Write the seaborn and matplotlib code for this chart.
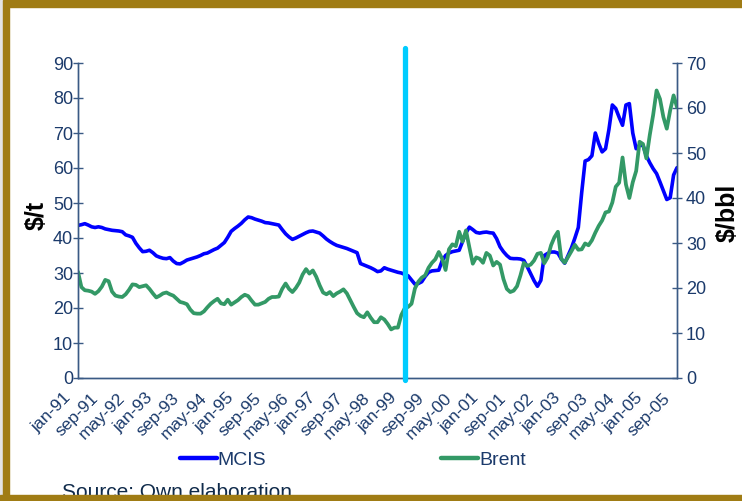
import numpy as np
import pandas as pd
import matplotlib
matplotlib.use("Agg")
import matplotlib.pyplot as plt
import seaborn as sns
from matplotlib.patches import Rectangle
from matplotlib.lines import Line2D
from matplotlib.transforms import ScaledTranslation

# ---------------- data (monthly, jan-91 .. sep-05) ----------------
mcis = [
    43.6, 43.8, 44.1, 43.7, 43.2, 43.0, 43.2, 43.0, 42.6, 42.4,
    42.2, 42.1, 42.0, 41.8, 40.9, 40.6, 40.2, 38.5, 37.2, 36.1,
    36.2, 36.5, 35.8, 34.9, 34.5, 34.2, 34.1, 34.4, 33.4, 32.7,
    32.6, 33.1, 33.7, 34.0, 34.3, 34.6, 35.0, 35.5, 35.7, 36.2,
    36.7, 37.1, 37.9, 38.7, 40.2, 41.9, 42.7, 43.4, 44.2, 45.2,
    46.0, 45.8, 45.4, 45.1, 44.8, 44.4, 44.3, 44.1, 43.9, 43.7,
    42.4, 41.2, 40.3, 39.6, 40.0, 40.5, 41.0, 41.5, 41.9, 42.0,
    41.7, 41.4, 40.6, 39.7, 39.0, 38.4, 37.9, 37.6, 37.3, 37.0,
    36.6, 36.2, 35.8, 32.7, 32.3, 31.9, 31.5, 31.0, 30.4, 30.6,
    31.5, 31.1, 30.8, 30.5, 30.2, 30.0, 29.6, 29.2, 28.0, 26.8,
    27.0, 27.5, 29.0, 30.2, 30.6, 30.7, 30.8, 33.5, 35.0, 35.7,
    36.1, 36.3, 36.5, 39.0, 41.5, 43.1, 42.4, 41.6, 41.4, 41.6,
    41.7, 41.5, 41.4, 39.8, 37.5, 36.1, 35.0, 34.2, 34.1, 34.1,
    34.0, 33.6, 31.8, 29.8, 27.8, 26.2, 27.9, 35.0, 35.6, 36.0,
    36.0, 35.7, 34.0, 32.8, 35.0, 37.2, 40.0, 43.0, 53.0, 62.0,
    62.4, 63.5, 70.0, 67.0, 64.6, 65.5, 71.0, 78.0, 77.0, 74.5,
    72.2, 78.0, 78.4, 70.0, 65.5, 66.5, 66.5, 63.5, 61.5, 59.8,
    58.4, 56.0, 53.5, 51.0, 51.5, 58.0, 60.1,
]

brent = [
    23.6, 20.2, 19.5, 19.4, 19.2, 18.7, 19.3, 20.3, 21.8, 21.5,
    19.2, 18.3, 18.1, 18.0, 18.6, 19.6, 20.8, 20.7, 20.2, 20.4,
    20.6, 19.8, 18.8, 17.9, 18.3, 18.8, 19.0, 18.6, 18.3, 17.6,
    16.9, 16.7, 16.4, 15.2, 14.4, 14.3, 14.3, 14.8, 15.7, 16.5,
    17.1, 17.6, 16.6, 16.4, 17.4, 16.3, 16.8, 17.3, 18.0, 18.5,
    18.2, 17.2, 16.3, 16.3, 16.6, 16.9, 17.6, 18.0, 18.0, 18.1,
    19.8, 21.0, 19.8, 19.1, 20.0, 21.2, 23.0, 24.2, 23.2, 23.9,
    22.5, 20.6, 19.0, 18.6, 19.1, 18.2, 18.8, 19.2, 19.7, 18.8,
    17.3, 15.8, 14.4, 13.8, 13.5, 14.6, 13.4, 12.4, 12.4, 13.5,
    13.0, 12.0, 10.8, 11.2, 11.2, 14.0, 15.5, 15.8, 16.5, 19.9,
    21.4, 22.3, 22.8, 24.5, 25.6, 26.4, 28.0, 26.5, 24.0, 28.6,
    29.7, 29.3, 32.5, 30.3, 32.8, 29.0, 25.4, 26.8, 26.5, 25.6,
    27.8, 27.2, 25.0, 25.8, 25.2, 22.0, 19.8, 19.1, 19.4, 20.4,
    22.8, 25.6, 24.9, 25.2, 26.1, 27.6, 27.8, 25.5, 26.8, 29.5,
    31.3, 32.5, 26.5, 25.6, 26.9, 28.2, 29.6, 28.5, 28.6, 29.9,
    29.5, 30.6, 32.3, 33.8, 35.0, 36.8, 37.0, 39.0, 42.5, 43.4,
    49.0, 43.0, 40.0, 43.5, 46.0, 52.5, 52.0, 48.8, 54.0, 58.5,
    63.9, 62.0, 58.0, 55.4, 59.5, 62.8, 60.2,
]

tick_labels = [
    "jan-91", "sep-91", "may-92", "jan-93", "sep-93", "may-94",
    "jan-95", "sep-95", "may-96", "jan-97", "sep-97", "may-98",
    "jan-99", "sep-99", "may-00", "jan-01", "sep-01", "may-02",
    "jan-03", "sep-03", "may-04", "jan-05", "sep-05",
]
label_step = 8          # one label every 8 months
event_month = 96        # jan-99 marker

months = list(range(len(mcis)))
df = pd.DataFrame({"month": months, "MCIS": mcis, "Brent": brent})

# ---------------- style ----------------
sns.set_theme(style="white")
plt.rcParams["font.family"] = ["Liberation Sans", "DejaVu Sans"]

navy = "#1B3A6B"
axis_col = "#3A5A85"
gold = "#A07C14"

W, H = 742, 501
fig = plt.figure(figsize=(W / 100, H / 100), dpi=100)
ax = fig.add_axes([78 / W, 123 / H, 599 / W, 315 / H])
ax2 = ax.twinx()

sns.lineplot(data=df, x="month", y="MCIS", ax=ax, color="#0000FF", lw=2.6)
sns.lineplot(data=df, x="month", y="Brent", ax=ax2, color="#339966", lw=2.7)

ax.set_xlim(0, len(mcis) - 1)
ax.set_ylim(0, 90)
ax2.set_ylim(0, 70)
ax.set_yticks(range(0, 91, 10))
ax2.set_yticks(range(0, 71, 10))

xpos = [i * label_step for i in range(len(tick_labels))]
ax.set_xticks(xpos)
ax.set_xticklabels(tick_labels, rotation=45, ha="right", va="top",
                   rotation_mode="anchor")
ax.set_xticks(np.linspace(0, len(mcis) - 1, 31), minor=True)

for a in (ax, ax2):
    a.set_xlabel("")
    a.set_ylabel("")
    a.spines["top"].set_visible(False)
    for s in ("left", "right", "bottom"):
        a.spines[s].set_color(axis_col)
        a.spines[s].set_linewidth(1.0)
    a.tick_params(axis="y", direction="inout", length=7, width=1.0,
                  color=axis_col, labelcolor=navy, labelsize=13, pad=0)
    a.grid(False)

ax.tick_params(axis="x", which="major", length=0, labelcolor=navy,
               labelsize=12.5, pad=9)
ax.tick_params(axis="x", which="minor", direction="inout", length=7,
               width=1.0, color=axis_col)
ax.tick_params(axis="y", left=True, right=False, labelleft=True)
ax2.tick_params(axis="y", right=True, left=False, labelright=True, pad=3)

shift = ScaledTranslation(-15 / 100, 0, fig.dpi_scale_trans)
for lab in ax.get_xticklabels():
    lab.set_transform(lab.get_transform() + shift)

# vertical marker
ax2.axvline(event_month, ymin=-0.006, ymax=1.048, color="#00CCFF", lw=3.8,
            clip_on=False, zorder=5)

# axis titles
fig.text(37 / W, 1 - 215 / H, "$/t", rotation=90, ha="center", va="center",
         fontsize=18, fontweight="bold", color="black")
fig.text(728 / W, 1 - 213 / H, "$/bbl", rotation=90, ha="center",
         va="center", fontsize=18, fontweight="bold", color="black")

# legend
handles = [Line2D([], [], color="#0000FF", lw=3.2),
           Line2D([], [], color="#339966", lw=3.2)]
leg = fig.legend(handles, ["MCIS", "Brent"], loc="center",
                 bbox_to_anchor=(353 / W, 1 - 460 / H), ncol=2,
                 frameon=False, handlelength=1.9, handletextpad=0.05,
                 columnspacing=9.0, fontsize=14)
for t in leg.get_texts():
    t.set_color(navy)

# source
fig.text(62 / W, 1 - 498 / H, "Source: Own elaboration", ha="left",
         va="baseline", fontsize=15, color="#0F2A4A")

# frame
fig.add_artist(Rectangle((0, 1 - 7 / H), 1, 7 / H, transform=fig.transFigure,
                         color=gold, zorder=20))
fig.add_artist(Rectangle((0, 0), 3 / W, 1, transform=fig.transFigure,
                         color="#E4E4E4", zorder=20))
fig.add_artist(Rectangle((3 / W, 0), 6 / W, 1, transform=fig.transFigure,
                         color=gold, zorder=20))
fig.add_artist(Rectangle((0, 0), 1, 6 / H, transform=fig.transFigure,
                         color=gold, zorder=20))

fig.savefig("out.png", dpi=100)
